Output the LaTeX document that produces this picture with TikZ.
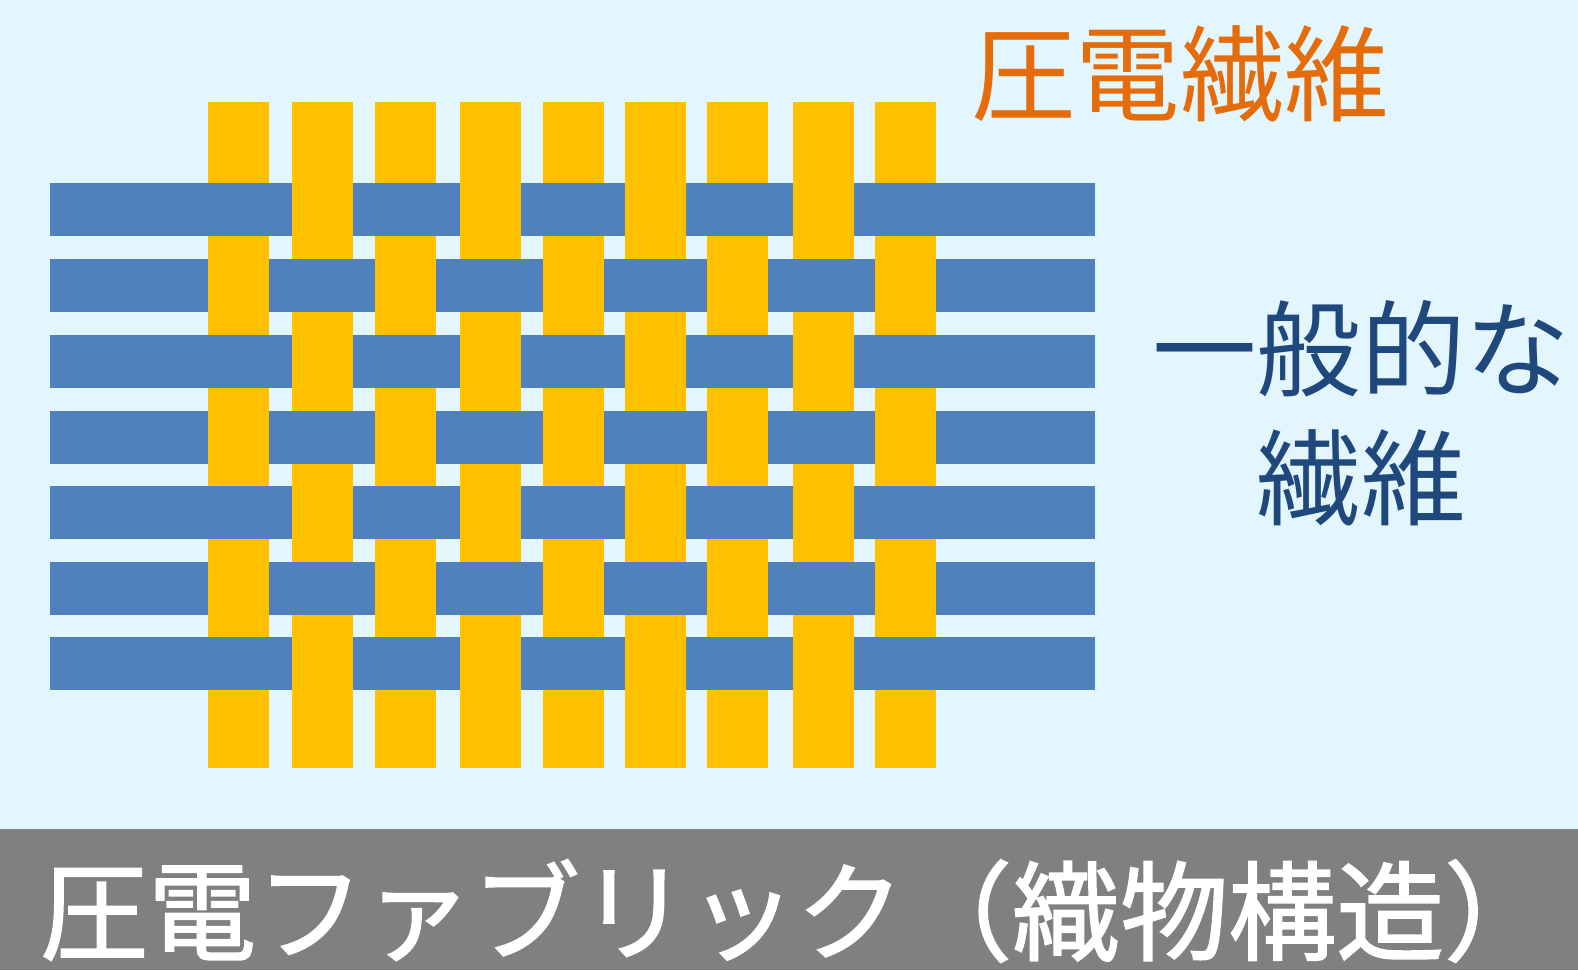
\documentclass[tikz,border=0pt]{standalone}
\usepackage{fontspec}
\newfontfamily\jp{Noto Sans CJK JP}
\newfontfamily\jpbold[FakeBold=1.5]{Noto Sans CJK JP}
\definecolor{bgblue}{HTML}{E3F5FD}
\definecolor{warpblue}{HTML}{4F81BD}
\definecolor{yarnyellow}{HTML}{FFC000}
\definecolor{piezoorange}{HTML}{E46C0A}
\definecolor{textblue}{HTML}{1F497D}
\definecolor{bandgray}{HTML}{808080}
\tikzset{
  yarn/.style={fill=yarnyellow},
  warp/.style={fill=warpblue},
  label/.style={inner sep=0pt, font=\jp\fontsize{104.5}{129}\selectfont},
}
\begin{document}
\begin{tikzpicture}[x=1pt,y=-1pt]
\useasboundingbox (0,0) rectangle (1578,970);
\fill[bgblue] (0,0) rectangle (1578,829);
\fill[bandgray] (0,829) rectangle (1578,970);
% piezo fibres (vertical)
\foreach \x in {208,292,375,460,543,625,707,793,875}
  \fill[yarn] (\x,102) rectangle ++(61,666);
% ordinary fibres (horizontal)
\foreach \y in {183,259,335,411,486,562,637}
  \fill[warp] (50,\y) rectangle (1095,\y+52.7);
% crossings where the piezo fibre lies on top
\foreach \y in {183,335,486,637}
  \foreach \x in {292,460,625,793}
    \fill[yarn] (\x,\y) rectangle ++(61,52.7);
\foreach \y in {259,411,562}
  \foreach \x in {208,375,543,707,875}
    \fill[yarn] (\x,\y) rectangle ++(61,52.7);
% labels
\node[label, text=piezoorange] (piezo) at (1180,74) {圧電繊維};
\node[label, text=textblue] (ord1) at (1361,349) {一般的な};
\node[label, text=textblue] (ord2) at (1361,478) {繊維};
\node[inner sep=0pt, anchor=west, text=white, font=\jpbold\fontsize{108}{120}\selectfont] (title) at (40,911) {圧電ファブリック（織物構造）};
\end{tikzpicture}
\end{document}
